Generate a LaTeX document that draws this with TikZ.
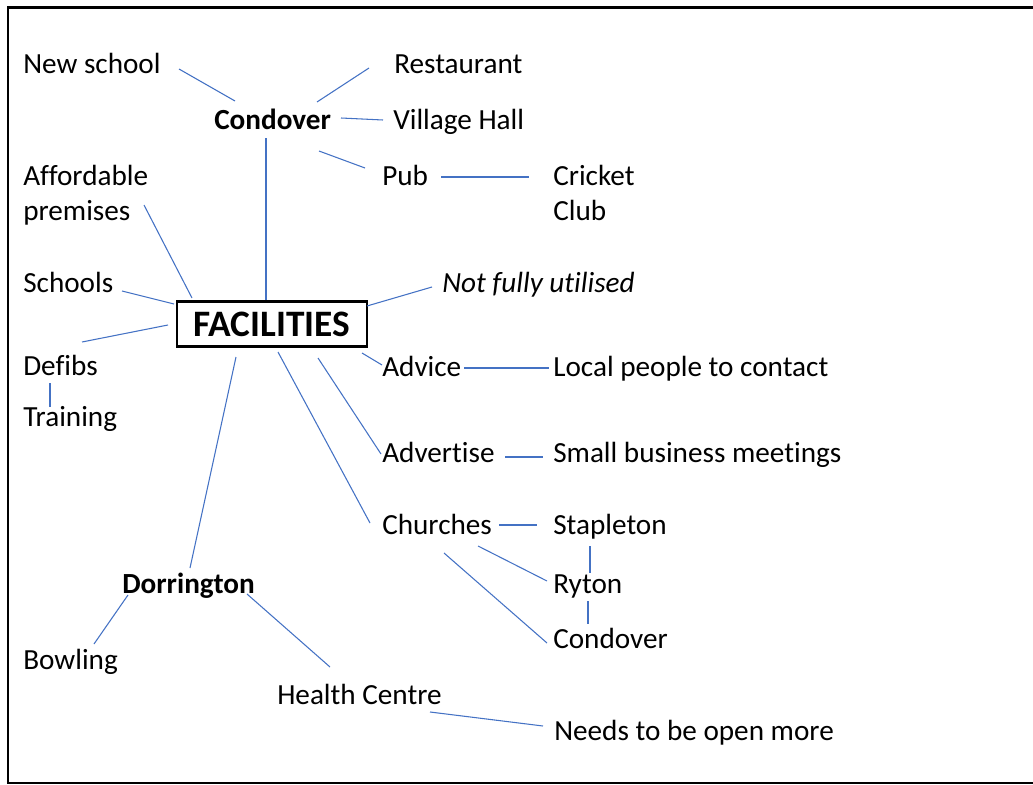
\documentclass[tikz,border=0pt]{standalone}
\usepackage{fontspec}
\setmainfont{Carlito}[Ligatures={NoCommon,NoContextual}]
\definecolor{lineblue}{HTML}{4472C4}
\begin{document}
\begin{tikzpicture}[x=0.75pt,y=-0.75pt,
  lbl/.style={anchor=base west,inner sep=0pt,font=\fontsize{21.9}{26.25}\selectfont},
  lblb/.style={anchor=base west,inner sep=0pt,font=\fontsize{21.9}{26.25}\selectfont\bfseries},
  lbli/.style={anchor=base west,inner sep=0pt,font=\fontsize{21.9}{26.25}\selectfont\itshape},
  hub/.style={draw,line width=1.6pt,inner sep=0pt,minimum width=142.5pt,minimum height=33.75pt,font=\fontsize{28}{32}\selectfont\bfseries},
  conn/.style={draw=lineblue,line width=0.8pt},
  frame/.style={draw,line width=1.6pt}]
\useasboundingbox (0,0) rectangle (1033,785);
\draw[frame] (1060,7.5) -- (8,7.5) -- (8,783) -- (1060,783);

% nodes
\node[lbl]  (newschool)  at (23,73)   {New school};
\node[lblb] (condover)   at (214,129) {Condover};
\node[lbl]  (restaurant) at (394,73)  {Restaurant};
\node[lbl]  (village)    at (393,129) {Village Hall};
\node[lbl]  (pub)        at (382,185) {Pub};
\node[lbl]  (cricket)    at (553,185) {\begin{tabular}[t]{@{}l@{}}Cricket\\Club\end{tabular}};
\node[lbl]  (afford)     at (23,185)  {\begin{tabular}[t]{@{}l@{}}Affordable\\premises\end{tabular}};
\node[lbl]  (schools)    at (23,292)  {Schools};
\node[hub]  (fac)        at (272,324) {FACILITIES};
\node[lbli] (notfully)   at (442,292) {Not fully utilised};
\node[lbl]  (defibs)     at (23,375)  {Defibs};
\node[lbl]  (training)   at (23,426)  {Training};
\node[lbl]  (advice)     at (382,376) {Advice};
\node[lbl]  (local)      at (553,376) {Local people to contact};
\node[lbl]  (advertise)  at (382,462) {Advertise};
\node[lbl]  (small)      at (553,462) {Small business meetings};
\node[lbl]  (churches)   at (382,534) {Churches};
\node[lbl]  (stapleton)  at (553,534) {Stapleton};
\node[lbl]  (ryton)      at (553,593) {Ryton};
\node[lbl]  (condover2)  at (553,648) {Condover};
\node[lblb] (dorrington) at (122,593) {Dorrington};
\node[lbl]  (bowling)    at (23,669)  {Bowling};
\node[lbl]  (health)     at (277,704) {Health Centre};
\node[lbl]  (needs)      at (554,740) {Needs to be open more};

% connector ends
\coordinate (ns-a) at (179,69);  \coordinate (ns-b) at (235,101);
\coordinate (re-a) at (317,102); \coordinate (re-b) at (369,68);
\coordinate (vh-a) at (341,118); \coordinate (vh-b) at (383,120);
\coordinate (pu-a) at (319,151); \coordinate (pu-b) at (365,168);
\coordinate (cr-a) at (441,177); \coordinate (cr-b) at (529,177);
\coordinate (cf-a) at (266,138); \coordinate (cf-b) at (266,300);
\coordinate (af-a) at (144,205); \coordinate (af-b) at (192,298);
\coordinate (sc-a) at (122,291); \coordinate (sc-b) at (174,304);
\coordinate (de-a) at (82,342);  \coordinate (de-b) at (168,325);
\coordinate (tr-a) at (50,383);  \coordinate (tr-b) at (50,407);
\coordinate (nf-a) at (367,306); \coordinate (nf-b) at (432,287);
\coordinate (ad-a) at (362,353); \coordinate (ad-b) at (382,365);
\coordinate (lo-a) at (464,368); \coordinate (lo-b) at (549,368);
\coordinate (av-a) at (318,358); \coordinate (av-b) at (381,454);
\coordinate (sm-a) at (505,457); \coordinate (sm-b) at (543,457);
\coordinate (ch-a) at (278,352); \coordinate (ch-b) at (370,523);
\coordinate (st-a) at (499,525); \coordinate (st-b) at (537,525);
\coordinate (ry-a) at (478,546); \coordinate (ry-b) at (547,581);
\coordinate (co-a) at (444,553); \coordinate (co-b) at (547,643);
\coordinate (sr-a) at (590,546); \coordinate (sr-b) at (590,573);
\coordinate (rc-a) at (588,601); \coordinate (rc-b) at (588,624);
\coordinate (do-a) at (236,357); \coordinate (do-b) at (190,568);
\coordinate (bo-a) at (128,595); \coordinate (bo-b) at (94,644);
\coordinate (he-a) at (247,594); \coordinate (he-b) at (330,667);
\coordinate (nd-a) at (430,712); \coordinate (nd-b) at (543,726);

% connectors
\foreach \c in {ns,re,vh,pu,cr,cf,af,sc,de,tr,nf,ad,lo,av,sm,ch,st,ry,co,sr,rc,do,bo,he,nd}
  \draw[conn] (\c-a) -- (\c-b);
\end{tikzpicture}
\end{document}
